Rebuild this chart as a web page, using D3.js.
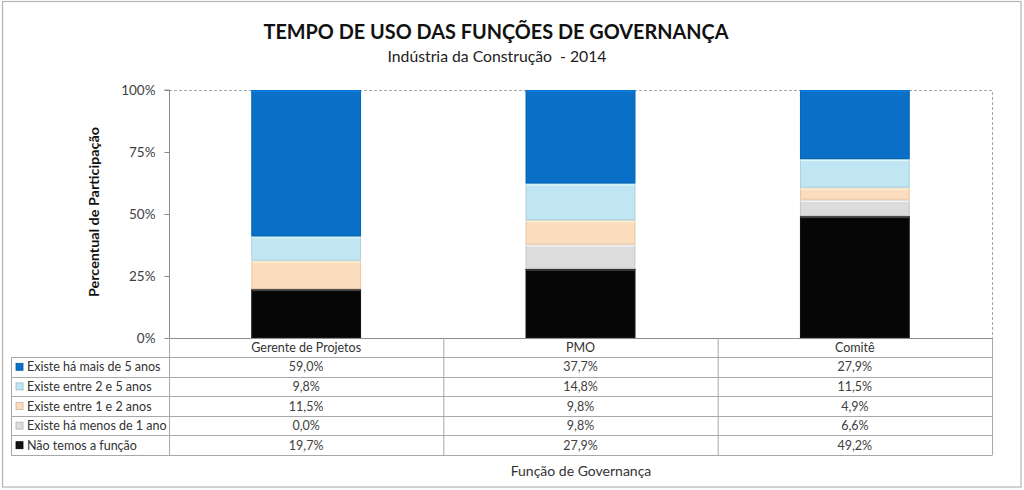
<!DOCTYPE html>
<html><head><meta charset="utf-8">
<script src="https://cdn.jsdelivr.net/npm/d3@7"></script>
<style>
html,body{margin:0;padding:0;background:#fff;}
svg{display:block;font-family:Lato, "Open Sans", sans-serif;}
</style></head>
<body>
<svg id="chart" width="1024" height="490"></svg>
<script>
const categories = ["Gerente de Projetos", "PMO", "Comitê"];
// stack order: bottom -> top
const seriesNames = ["Não temos a função", "Existe há menos de 1 ano", "Existe entre 1 e 2 anos", "Existe entre 2 e 5 anos", "Existe há mais de 5 anos"];
const naoTemos   = [19.7, 27.9, 49.2];
const menos1     = [0.0, 9.8, 6.6];
const entre1e2   = [11.5, 9.8, 4.9];
const entre2e5   = [9.8, 14.8, 11.5];
const mais5      = [59.0, 37.7, 27.9];
const yTicks = [0, 0.25, 0.5, 0.75, 1];
const colors = ["#060606", "#dcdcdc", "#fbdcbd", "#bfe6f2", "#0a70c7"];
const title = "TEMPO DE USO DAS FUNÇÕES DE GOVERNANÇA";
const subtitle = "Indústria da Construção  - 2014";
const yTitle = "Percentual de Participação";
const xTitle = "Função de Governança";

const valuesBySeries = [naoTemos, menos1, entre1e2, entre2e5, mais5];
const rows = categories.map((c, i) => {
  const r = {cat: c};
  seriesNames.forEach((s, k) => r[s] = valuesBySeries[k][i]);
  return r;
});

const svg = d3.select("#chart");
const plot = {left: 169, right: 992, top: 90, bottom: 338};
const tableLeft = 11;
const rowH = 19.6;
const headerH = 19;

// outer border
svg.append("rect").attr("x", 2.5).attr("y", 1.5).attr("width", 1018.5).attr("height", 485.5)
  .attr("fill", "#fff").attr("stroke", "#b4b4b4").attr("stroke-width", 1.2);

const x = d3.scaleBand().domain(categories).range([plot.left, plot.right]).paddingInner(0.6).paddingOuter(0.3);
const band = d3.scaleBand().domain(categories).range([plot.left, plot.right]);
const y = d3.scaleLinear().domain([0, 1]).range([plot.bottom, plot.top]);

// plot area dashed border (top & right)
svg.append("path")
  .attr("d", `M${plot.left},${plot.top + 0.5}H${plot.right + 0.5}V${plot.bottom}`)
  .attr("fill", "none").attr("stroke", "#a6a6a6").attr("stroke-dasharray", "3,2");

const stack = d3.stack().keys(seriesNames).offset(d3.stackOffsetExpand);
const stacked = stack(rows);

const g = svg.append("g");
stacked.forEach((layer, k) => {
  const col = d3.color(colors[k]);
  layer.forEach(d => {
    const x0 = x(d.data.cat), w = x.bandwidth();
    const y0 = y(d[1]), y1 = y(d[0]);
    const h = y1 - y0;
    if (h <= 0.01) return;
    g.append("rect").attr("x", x0).attr("y", y0).attr("width", w).attr("height", h)
      .attr("fill", colors[k]);
    // bevel: light top edge, darker outline
    g.append("rect").attr("x", x0).attr("y", y0).attr("width", w).attr("height", Math.min(2, h))
      .attr("fill", k === 0 ? "#4a4a4a" : col.brighter(0.5)).attr("opacity", 0.9);
    g.append("rect").attr("x", x0 + 0.5).attr("y", y0 + 0.5).attr("width", w - 1).attr("height", h - 1)
      .attr("fill", "none").attr("stroke", k === 0 ? "#222" : col.darker(0.5)).attr("stroke-opacity", 0.55);
  });
});

// y axis
const yAxis = d3.axisLeft(y).tickValues(yTicks).tickFormat(d3.format(".0%")).tickSize(5).tickPadding(9);
const ya = svg.append("g").attr("transform", `translate(${plot.left + 0.5},0)`).call(yAxis);
ya.select(".domain").attr("stroke", "#8c8c8c").attr("d", `M-5,${plot.top}H0V${plot.bottom + 8}`);
ya.selectAll(".tick line").attr("stroke", "#8c8c8c");
ya.selectAll(".tick text").attr("fill", "#404040").attr("font-size", 13.5).attr("font-family", "Lato");

// baseline
svg.append("line").attr("x1", plot.left).attr("x2", plot.right + 0.5).attr("y1", plot.bottom + 0.5).attr("y2", plot.bottom + 0.5)
  .attr("stroke", "#8c8c8c");

// table
const tableTop = plot.bottom;
const tableBottom = tableTop + headerH + rowH * 5;
const tg = svg.append("g");
const lineColor = "#a8a8a8";
const colEdges = [plot.left, ...categories.map(c => band(c) + band.bandwidth())];
colEdges.forEach(cx => {
  tg.append("line").attr("x1", cx + 0.5).attr("x2", cx + 0.5).attr("y1", tableTop).attr("y2", tableBottom)
    .attr("stroke", lineColor);
});
tg.append("line").attr("x1", tableLeft + 0.5).attr("x2", tableLeft + 0.5).attr("y1", tableTop + headerH).attr("y2", tableBottom)
  .attr("stroke", lineColor);
for (let i = 0; i <= 5; i++) {
  const yy = Math.round(tableTop + headerH + i * rowH) + 0.5;
  tg.append("line").attr("x1", tableLeft).attr("x2", plot.right + 0.5).attr("y1", yy).attr("y2", yy).attr("stroke", lineColor);
}
categories.forEach(c => {
  tg.append("text").attr("x", band(c) + band.bandwidth() / 2).attr("y", tableTop + 14)
    .attr("text-anchor", "middle").attr("font-size", 12.5).attr("fill", "#333").text(c);
});
const tableSeries = seriesNames.map((s, k) => ({name: s, k})).reverse();
const fmt = v => v.toFixed(1).replace(".", ",") + "%";
tableSeries.forEach((s, r) => {
  const cy = tableTop + headerH + r * rowH + rowH / 2;
  const col = d3.color(colors[s.k]);
  tg.append("rect").attr("x", 16).attr("y", cy - 3.5).attr("width", 7).attr("height", 7)
    .attr("fill", s.k === 0 ? "#111" : colors[s.k]).attr("stroke", s.k === 0 ? "#000" : col.darker(0.6)).attr("stroke-width", 0.8);
  tg.append("text").attr("x", 27).attr("y", cy + 4.5).attr("font-size", 12.5).attr("fill", "#333").text(s.name);
  categories.forEach((c, i) => {
    tg.append("text").attr("x", band(c) + band.bandwidth() / 2).attr("y", cy + 4.5)
      .attr("text-anchor", "middle").attr("font-size", 12.5).attr("fill", "#404040").text(fmt(valuesBySeries[s.k][i]));
  });
});

// titles
svg.append("text").attr("x", 496).attr("y", 39).attr("text-anchor", "middle")
  .attr("font-size", 21).attr("font-weight", "bold").attr("fill", "#111")
  .attr("textLength", 465).attr("lengthAdjust", "spacingAndGlyphs").text(title);
svg.append("text").attr("x", 497).attr("y", 62).attr("text-anchor", "middle")
  .attr("font-size", 15).attr("fill", "#222").style("white-space", "pre").attr("xml:space", "preserve")
  .attr("textLength", 219).attr("lengthAdjust", "spacingAndGlyphs").text(subtitle);
svg.append("text").attr("transform", `translate(99,212) rotate(-90)`).attr("text-anchor", "middle")
  .attr("font-size", 13.5).attr("font-weight", "bold").attr("fill", "#111")
  .attr("textLength", 170).attr("lengthAdjust", "spacingAndGlyphs").text(yTitle);
svg.append("text").attr("x", 581).attr("y", 476).attr("text-anchor", "middle")
  .attr("font-size", 14).attr("fill", "#333").text(xTitle);
</script>
</body></html>
